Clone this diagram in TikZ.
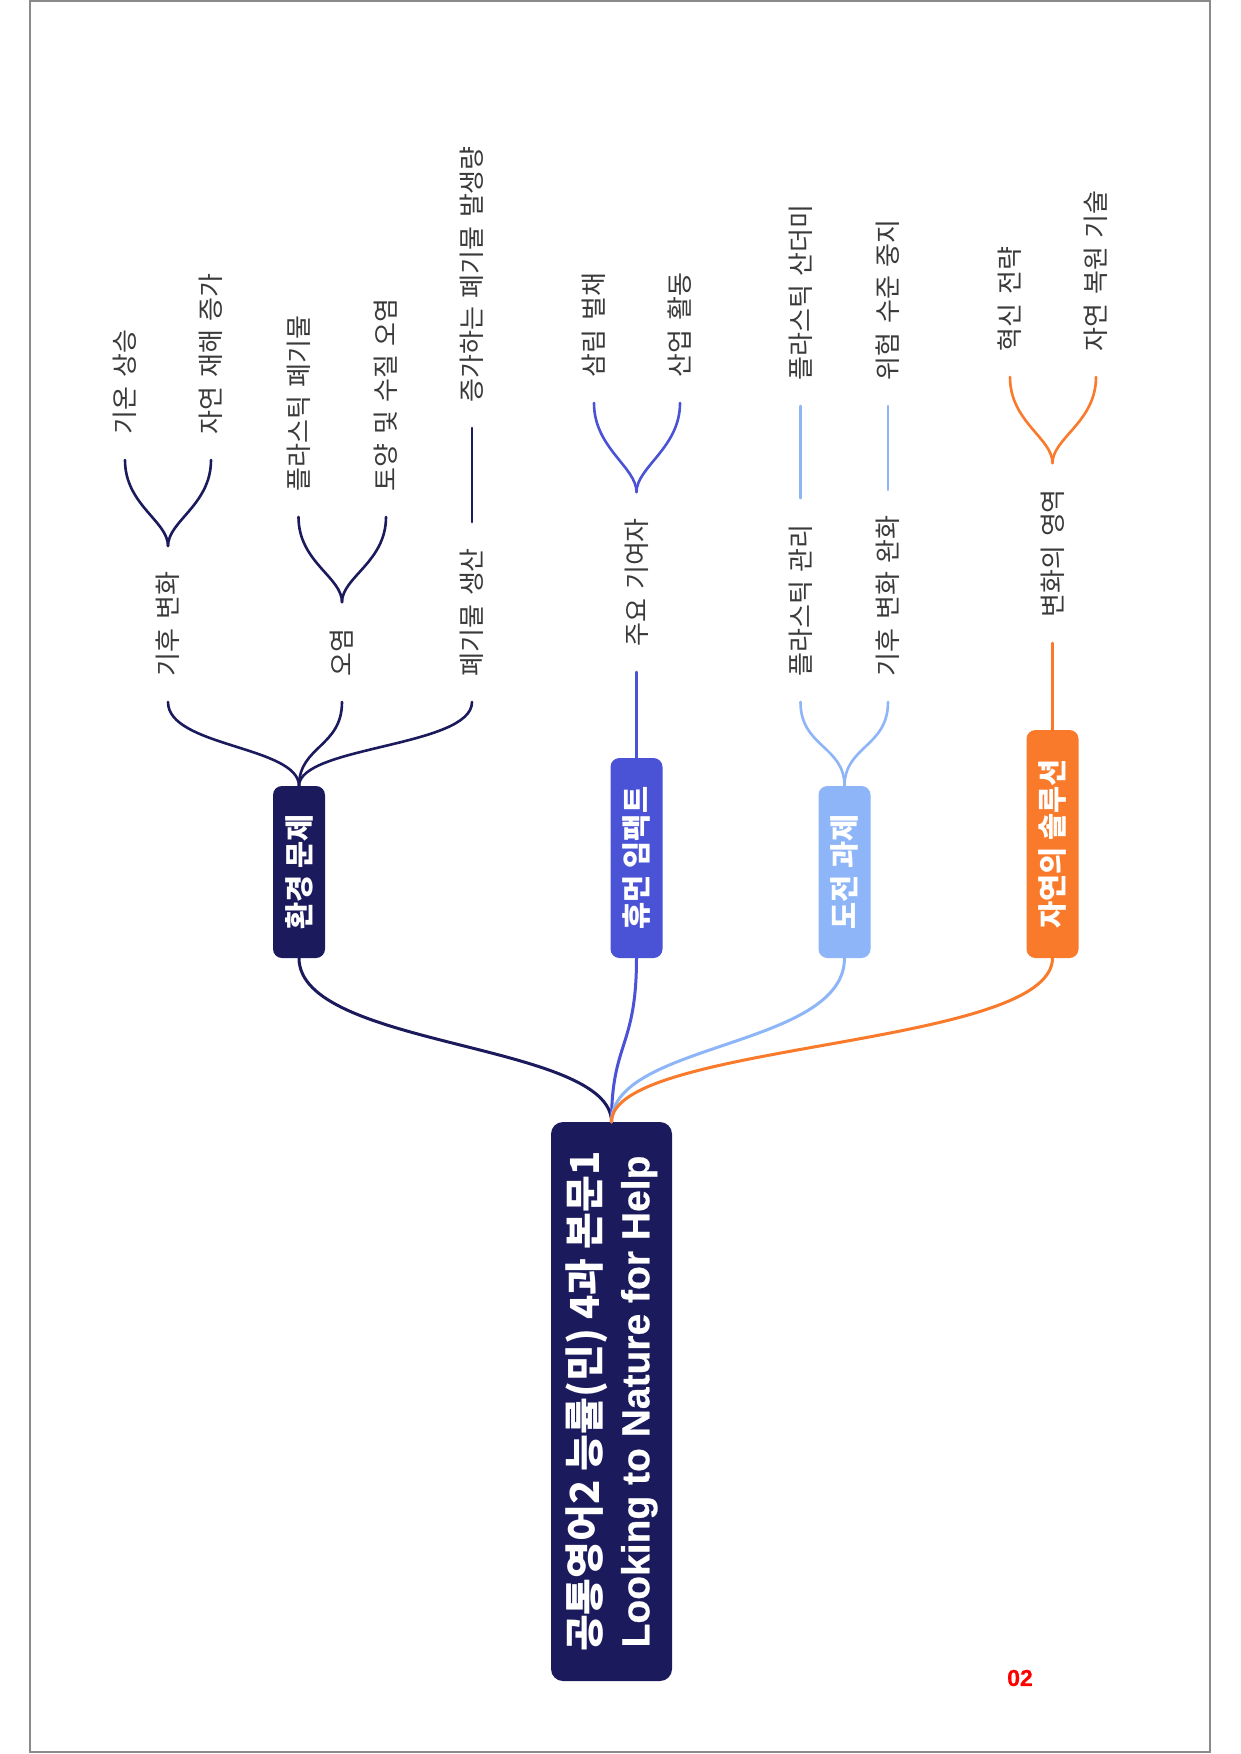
\documentclass[tikz,border=0pt]{standalone}
\usepackage{fontspec}
\setmainfont{Noto Sans CJK KR}
\newfontfamily\latinfont{Liberation Sans}[BoldFeatures={FakeBold=0.6}]
\definecolor{navy}{HTML}{1B1A5C}
\definecolor{royal}{HTML}{4A52D6}
\definecolor{sky}{HTML}{8DB5F8}
\definecolor{orng}{HTML}{F97A2A}
\definecolor{leafgray}{HTML}{3A3A3A}
\definecolor{framegray}{HTML}{8A8A8A}
\newcommand\myleaffont{\fontsize{26}{29}\selectfont\spaceskip=0.32em\relax}
\tikzset{
  rootbox/.style={rotate=90, fill=navy, rounded corners=12pt, inner sep=0pt, outer sep=0pt,
    text=white, align=center, font=\bfseries\fontsize{40}{50}\selectfont},
  branchbox/.style={rotate=90, anchor=west, rounded corners=9pt, minimum height=52pt,
    inner sep=0pt, outer sep=0pt, text=white, font=\bfseries\fontsize{29.5}{32}\selectfont},
  leaf/.style={rotate=90, anchor=west, inner sep=0pt, outer xsep=26pt, outer ysep=0pt,
    text=leafgray, font=\myleaffont},
  conn/.style={line width=2.6pt, line cap=round},
  mainconn/.style={line width=3pt, line cap=round},
}
\begin{document}
\begin{tikzpicture}[x=1pt,y=-1pt]
\useasboundingbox (0,0) rectangle (1240,1754);
\fill[white] (0,0) rectangle (1240,1754);
\draw[framegray, line width=2pt] (30,1) rectangle (1210,1752);

% root
\node[rootbox, minimum width=559pt, minimum height=121pt] (root) at (611.5,1401.5)
  {공통영어2 능률(민) 4과 본문1\\{\latinfont\bfseries\fontsize{39}{50}\selectfont Looking to Nature for Help}};

% branches
\node[branchbox, fill=navy,  minimum width=172pt] (b1) at (299,958) {환경 문제};
\node[branchbox, fill=royal, minimum width=200pt] (b2) at (636.5,958) {휴먼 임팩트};
\node[branchbox, fill=sky,   minimum width=172pt] (b3) at (844.5,958) {도전 과제};
\node[branchbox, fill=orng,  minimum width=228pt] (b4) at (1052.5,958) {자연의 솔루션};

\draw[mainconn, navy]  (root.east) .. controls +(0,-80) and +(0,90) .. (b1.west);
\draw[mainconn, royal] (root.east) .. controls +(0,-80) and +(0,90) .. (b2.west);
\draw[mainconn, sky]   (root.east) .. controls +(0,-80) and +(0,90) .. (b3.west);
\draw[mainconn, orng]  (root.east) .. controls +(0,-80) and +(0,90) .. (b4.west);

% level 2
\node[leaf] (n11) at (168,702) {기후 변화};
\node[leaf] (n12) at (342,702) {오염};
\node[leaf] (n13) at (472,702) {폐기물 생산};
\node[leaf] (n21) at (636.5,672) {주요 기여자};
\node[leaf] (n31) at (800.5,702) {플라스틱 관리};
\node[leaf] (n32) at (888,702) {기후 변화 완화};
\node[leaf] (n41) at (1052.5,643) {변화의 영역};

\draw[conn, navy]  (b1.east) .. controls +(0,-40) and +(0,45) .. (n11.west);
\draw[conn, navy]  (b1.east) .. controls +(0,-40) and +(0,45) .. (n12.west);
\draw[conn, navy]  (b1.east) .. controls +(0,-40) and +(0,45) .. (n13.west);
\draw[conn, royal] (b2.east) -- (n21.west);
\draw[conn, sky]   (b3.east) .. controls +(0,-40) and +(0,45) .. (n31.west);
\draw[conn, sky]   (b3.east) .. controls +(0,-40) and +(0,45) .. (n32.west);
\draw[conn, orng]  (b4.east) -- (n41.west);

% level 3
\node[leaf] (n111) at (125,460) {기온 상승};
\node[leaf] (n112) at (211,460) {자연 재해 증가};
\node[leaf] (n121) at (298.5,517) {플라스틱 폐기물};
\node[leaf] (n122) at (386,517) {토양 및 수질 오염};
\node[leaf] (n131) at (472,428) {증가하는 폐기물 발생량};
\node[leaf] (n211) at (594,403) {삼림 벌채};
\node[leaf] (n212) at (680,403) {산업 활동};
\node[leaf] (n311) at (800.5,406) {플라스틱 산더미};
\node[leaf] (n321) at (888,406) {위험 수준 중지};
\node[leaf] (n411) at (1010,377) {혁신 전략};
\node[leaf] (n412) at (1096,377) {자연 복원 기술};

\draw[conn, navy]  (n11.east) .. controls +(0,-25) and +(0,45) .. (n111.west);
\draw[conn, navy]  (n11.east) .. controls +(0,-25) and +(0,45) .. (n112.west);
\draw[conn, navy]  (n12.east) .. controls +(0,-25) and +(0,45) .. (n121.west);
\draw[conn, navy]  (n12.east) .. controls +(0,-25) and +(0,45) .. (n122.west);
\draw[conn, navy]  (n13.east) -- (n131.west);
\draw[conn, royal] (n21.east) .. controls +(0,-25) and +(0,45) .. (n211.west);
\draw[conn, royal] (n21.east) .. controls +(0,-25) and +(0,45) .. (n212.west);
\draw[conn, sky]   (n31.east) -- (n311.west);
\draw[conn, sky]   (n32.east) -- (n321.west);
\draw[conn, orng]  (n41.east) .. controls +(0,-25) and +(0,45) .. (n411.west);
\draw[conn, orng]  (n41.east) .. controls +(0,-25) and +(0,45) .. (n412.west);

% page number
\node[text=red, font=\latinfont\bfseries\fontsize{23}{26}\selectfont, inner sep=0pt] (pnum) at (1020,1678) {02};
\end{tikzpicture}
\end{document}
